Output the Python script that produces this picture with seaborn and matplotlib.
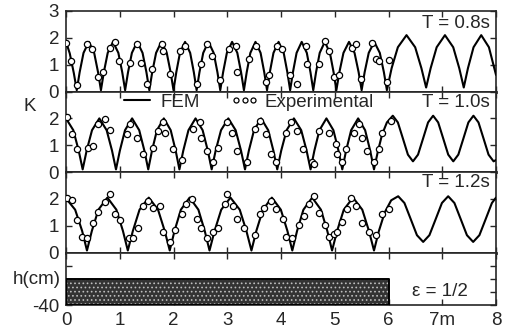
import matplotlib
matplotlib.use("Agg")
import matplotlib.pyplot as plt
from matplotlib.lines import Line2D
from matplotlib.legend_handler import HandlerLine2D
import seaborn as sns

# ---------------- data ----------------
x_ticks = [0, 1, 2, 3, 4, 5, 6, 7, 8]
x_ticklabels = ["0", "1", "2", "3", "4", "5", "6", "7m", "8"]
period_labels = ["T = 0.8s", "T = 1.0s", "T = 1.2s"]

# T = 0.8 s
x1_fem = [0.00, 0.07, 0.146, 0.20,
          0.254, 0.326, 0.425, 0.524, 0.596, 0.65,
          0.704, 0.776, 0.875, 0.974, 1.046, 1.10,
          1.154, 1.226, 1.325, 1.424, 1.496, 1.55,
          1.604, 1.676, 1.775, 1.874, 1.946, 2.00,
          2.052, 2.120, 2.215, 2.310, 2.378, 2.43,
          2.483, 2.553, 2.650, 2.747, 2.817, 2.87,
          2.923, 2.993, 3.090, 3.187, 3.257, 3.31,
          3.362, 3.430, 3.525, 3.620, 3.688, 3.74,
          3.792, 3.860, 3.955, 4.050, 4.118, 4.17,
          4.222, 4.290, 4.385, 4.480, 4.548, 4.60,
          4.652, 4.720, 4.815, 4.910, 4.978, 5.03,
          5.086, 5.162, 5.265, 5.368, 5.444, 5.50,
          5.556, 5.632, 5.735, 5.838, 5.914, 5.97,
          6.058, 6.174, 6.335, 6.496, 6.612, 6.70,
          6.784, 6.896, 7.050, 7.204, 7.316, 7.40,
          7.478, 7.582, 7.725, 7.868, 8.00]
k1_fem = [1.85, 1.42, 0.68, 0.05,
          0.72, 1.44, 1.85, 1.44, 0.72, 0.05,
          0.72, 1.44, 1.85, 1.44, 0.72, 0.05,
          0.72, 1.44, 1.85, 1.44, 0.72, 0.05,
          0.72, 1.44, 1.85, 1.44, 0.72, 0.05,
          0.72, 1.44, 1.85, 1.44, 0.72, 0.05,
          0.72, 1.44, 1.85, 1.44, 0.72, 0.05,
          0.72, 1.44, 1.85, 1.44, 0.72, 0.05,
          0.72, 1.44, 1.85, 1.44, 0.72, 0.05,
          0.72, 1.44, 1.85, 1.44, 0.72, 0.05,
          0.72, 1.44, 1.85, 1.44, 0.72, 0.05,
          0.72, 1.44, 1.85, 1.44, 0.72, 0.05,
          0.72, 1.44, 1.85, 1.44, 0.72, 0.05,
          0.72, 1.44, 1.85, 1.44, 0.72, 0.05,
          0.87, 1.65, 2.10, 1.65, 0.87, 0.15,
          0.87, 1.65, 2.10, 1.65, 0.87, 0.15,
          0.87, 1.65, 2.10, 1.65, 0.62]
x1_exp = [0.00, 0.09, 0.20, 0.39, 0.48, 0.59, 0.69, 0.82, 0.91, 0.98,
          1.19, 1.32, 1.39, 1.50, 1.60, 1.78, 1.80, 1.93, 2.12, 2.21,
          2.43, 2.52, 2.63, 2.71, 2.86, 3.04, 3.17, 3.19, 3.41, 3.54,
          3.73, 3.78, 3.93, 4.01, 4.16, 4.29, 4.47, 4.49, 4.71, 4.81,
          4.90, 4.99, 5.08, 5.32, 5.40, 5.49, 5.70, 5.77, 5.83, 5.97, 6.01]
k1_exp = [1.81, 1.12, 0.23, 1.77, 1.58, 0.54, 0.73, 1.62, 1.85, 1.12,
          1.08, 1.77, 1.08, 0.27, 0.85, 1.77, 1.50, 0.65, 1.50, 1.69,
          0.27, 1.04, 1.77, 1.31, 0.42, 1.58, 1.69, 0.73, 1.23, 1.69,
          0.35, 0.62, 1.69, 1.58, 0.62, 0.27, 1.69, 1.04, 1.04, 1.88,
          1.50, 0.54, 0.62, 1.62, 1.77, 0.46, 1.81, 1.23, 1.12, 0.35, 1.19]

# T = 1.0 s
x2_fem = [0.00, 0.136, 0.236, 0.31,
          0.384, 0.484, 0.620, 0.756, 0.856, 0.93,
          1.002, 1.098, 1.230, 1.362, 1.458, 1.53,
          1.600, 1.692, 1.820, 1.948, 2.040, 2.11,
          2.182, 2.278, 2.410, 2.542, 2.638, 2.71,
          2.784, 2.884, 3.020, 3.156, 3.256, 3.33,
          3.402, 3.498, 3.630, 3.762, 3.858, 3.93,
          4.004, 4.104, 4.240, 4.376, 4.476, 4.55,
          4.621, 4.715, 4.845, 4.975, 5.069, 5.14,
          5.211, 5.305, 5.435, 5.565, 5.659, 5.73,
          5.80, 5.88, 5.97, 6.08, 6.174, 6.268, 6.361, 6.455,
          6.549, 6.643, 6.736, 6.83, 6.924, 7.018, 7.111, 7.205,
          7.299, 7.393, 7.486, 7.58, 7.674, 7.768, 7.861, 7.955, 8.00]
k2_fem = [2.00, 1.56, 0.80, 0.10,
          0.80, 1.56, 2.00, 1.56, 0.80, 0.10,
          0.80, 1.56, 2.00, 1.56, 0.80, 0.10,
          0.80, 1.56, 2.00, 1.56, 0.80, 0.10,
          0.80, 1.56, 2.00, 1.56, 0.80, 0.10,
          0.80, 1.56, 2.00, 1.56, 0.80, 0.10,
          0.80, 1.56, 2.00, 1.56, 0.80, 0.10,
          0.80, 1.56, 2.00, 1.56, 0.80, 0.10,
          0.80, 1.56, 2.00, 1.56, 0.80, 0.10,
          0.80, 1.56, 2.00, 1.56, 0.80, 0.10,
          0.75, 1.40, 1.85, 2.10, 1.85, 1.25, 0.65, 0.40,
          0.65, 1.25, 1.85, 2.10, 1.85, 1.25, 0.65, 0.40,
          0.65, 1.25, 1.85, 2.10, 1.85, 1.25, 0.65, 0.40, 0.45]
x2_exp = [0.02, 0.11, 0.20, 0.41, 0.50, 0.60, 0.72, 0.82, 1.13, 1.19,
          1.32, 1.43, 1.61, 1.71, 1.80, 1.84, 1.99, 2.15, 2.36, 2.49,
          2.52, 2.63, 2.73, 2.82, 3.00, 3.08, 3.19, 3.36, 3.51, 3.60,
          3.73, 3.82, 3.91, 4.10, 4.19, 4.29, 4.40, 4.58, 4.62, 4.71,
          4.90, 5.03, 5.05, 5.14, 5.21, 5.36, 5.45, 5.51, 5.60, 5.73,
          5.83, 5.88, 6.05]
k2_exp = [2.04, 1.42, 0.85, 0.88, 0.96, 1.80, 1.96, 1.58, 1.42, 1.80,
          1.27, 0.69, 0.88, 1.54, 1.85, 1.46, 0.85, 0.46, 1.62, 1.85,
          1.27, 0.77, 0.38, 0.88, 1.85, 1.46, 0.77, 0.38, 1.62, 1.92,
          1.42, 0.69, 0.38, 1.46, 1.85, 1.54, 0.85, 0.38, 0.31, 1.54,
          1.46, 1.04, 0.69, 0.38, 0.85, 1.46, 1.80, 1.27, 0.77, 0.38,
          0.85, 1.46, 1.92]

# T = 1.2 s
x3_fem = [0.00, 0.17, 0.30, 0.39,
          0.481, 0.603, 0.770, 0.937, 1.059, 1.15,
          1.244, 1.368, 1.540, 1.712, 1.836, 1.93,
          2.019, 2.137, 2.300, 2.463, 2.581, 2.67,
          2.764, 2.888, 3.060, 3.232, 3.356, 3.45,
          3.541, 3.663, 3.830, 3.997, 4.119, 4.21,
          4.299, 4.417, 4.580, 4.743, 4.861, 4.95,
          5.044, 5.168, 5.340, 5.512, 5.636, 5.73,
          5.82, 5.93, 6.05, 6.18, 6.296, 6.413, 6.529, 6.645,
          6.761, 6.878, 6.994, 7.11, 7.226, 7.343, 7.459, 7.575,
          7.691, 7.808, 7.924, 8.00]
k3_fem = [2.02, 1.60, 0.81, 0.08,
          0.81, 1.60, 2.05, 1.60, 0.81, 0.08,
          0.81, 1.60, 2.05, 1.60, 0.81, 0.08,
          0.81, 1.60, 2.05, 1.60, 0.81, 0.08,
          0.81, 1.60, 2.05, 1.60, 0.81, 0.08,
          0.81, 1.60, 2.05, 1.60, 0.81, 0.08,
          0.81, 1.60, 2.05, 1.60, 0.81, 0.08,
          0.81, 1.60, 2.05, 1.60, 0.81, 0.08,
          0.80, 1.50, 1.95, 2.10, 1.85, 1.25, 0.65, 0.40,
          0.65, 1.25, 1.85, 2.10, 1.85, 1.25, 0.65, 0.40,
          0.65, 1.25, 1.85, 2.05]
x3_exp = [0.02, 0.12, 0.20, 0.30, 0.39, 0.50, 0.60, 0.73, 0.82, 0.91,
          1.00, 1.18, 1.25, 1.34, 1.43, 1.53, 1.62, 1.74, 1.81, 1.93,
          2.02, 2.15, 2.24, 2.34, 2.43, 2.52, 2.63, 2.73, 2.82, 2.95,
          3.00, 3.10, 3.19, 3.32, 3.51, 3.60, 3.69, 3.82, 3.91, 4.03,
          4.10, 4.21, 4.34, 4.43, 4.53, 4.62, 4.71, 4.81, 4.90, 4.99,
          5.05, 5.14, 5.23, 5.31, 5.40, 5.51, 5.64, 5.77, 5.88, 6.01]
k3_exp = [2.04, 1.96, 1.20, 0.58, 0.55, 1.09, 1.53, 1.89, 2.18, 1.45,
          1.20, 0.55, 0.55, 0.91, 1.75, 1.93, 1.67, 1.75, 0.76, 0.40,
          0.84, 1.45, 1.82, 2.00, 1.27, 0.91, 0.55, 0.76, 0.91, 1.82,
          2.18, 1.75, 1.27, 0.91, 0.65, 1.45, 1.67, 1.93, 1.64, 1.27,
          0.58, 0.55, 1.02, 1.38, 1.82, 2.10, 1.49, 1.02, 0.58, 0.70,
          0.76, 1.13, 1.64, 2.04, 1.75, 1.09, 0.76, 0.65, 1.45, 1.64]

# breakwater profile (bottom panel)
bw_x = [0.0, 6.0]
bw_bottom = [-40, -40]
bw_top = [-20, -20]

# ---------------- style ----------------
FS = 13.5
sns.set_theme(style="ticks")
plt.rcParams["font.family"] = ["Liberation Sans", "DejaVu Sans"]
plt.rcParams["font.size"] = FS
plt.rcParams["axes.linewidth"] = 1.2
plt.rcParams["hatch.linewidth"] = 0.7

fig = plt.figure(figsize=(5.05, 3.28), dpi=100)
gs = fig.add_gridspec(4, 1, height_ratios=[3, 3, 3, 1.95], hspace=0,
                      left=0.1307, right=0.9822, top=0.9665, bottom=0.0701)
axes = [fig.add_subplot(gs[i]) for i in range(4)]

fem_x = [x1_fem, x2_fem, x3_fem]
fem_k = [k1_fem, k2_fem, k3_fem]
exp_x = [x1_exp, x2_exp, x3_exp]
exp_k = [k1_exp, k2_exp, k3_exp]
label_y = [0.84, 0.87, 0.87]

for i in range(3):
    ax = axes[i]
    sns.lineplot(x=fem_x[i], y=fem_k[i], ax=ax, color="black", lw=1.5,
                 estimator=None, sort=False, zorder=3)
    sns.scatterplot(x=exp_x[i], y=exp_k[i], ax=ax, marker="o", s=20,
                    facecolor="white", edgecolor="black", linewidth=0.9,
                    zorder=4)
    ax.set_xlim(0, 8)
    ax.set_ylim(0, 3)
    ax.set_xticks(x_ticks)
    ax.set_xticklabels([])
    ax.set_yticks([0, 1, 2, 3])
    if i == 0:
        ax.set_yticklabels(["0", "1", "2", "3"])
    else:
        ax.set_yticklabels(["0", "1", "2", ""])
    ax.tick_params(direction="in", top=True, right=True, length=4,
                   width=1.0, pad=5, labelsize=FS)
    ax.text(0.985, label_y[i], period_labels[i], transform=ax.transAxes,
            ha="right", va="center", fontsize=FS)
    ax.set_xlabel("")
    ax.set_ylabel("")
    for sp in ax.spines.values():
        sp.set_linewidth(1.2)
    ax.spines["bottom"].set_linewidth(2.0)

# bottom panel
axb = axes[3]
axb.fill_between(bw_x, bw_bottom, bw_top, facecolor="#333333",
                 edgecolor="#bdbdbd", hatch="....", linewidth=0, zorder=2)
axb.fill_between(bw_x, bw_bottom, bw_top, facecolor="none",
                 edgecolor="black", linewidth=1.4, zorder=3)
axb.set_xlim(0, 8)
axb.set_ylim(-40, 0)
axb.set_xticks(x_ticks)
axb.set_xticklabels(x_ticklabels)
axb.set_yticks([-40, -30, -20, -10])
axb.set_yticklabels(["-40", "", "", ""])
axb.tick_params(direction="in", top=True, right=True, length=4,
                width=1.0, pad=5, labelsize=FS)
axb.text(0.87, 0.26, "ε = 1/2", transform=axb.transAxes,
         ha="center", va="center", fontsize=FS)

# legend in second panel
handles = [Line2D([0], [0], color="black", lw=1.5),
           Line2D([0], [0], color="black", lw=0, marker="o", markersize=3.6,
                  markerfacecolor="white", markeredgewidth=0.9)]
axes[1].legend(handles, ["FEM", "Experimental"], ncol=2, frameon=False,
               loc="center left", bbox_to_anchor=(0.121, 0.87),
               borderaxespad=0, borderpad=0, handlelength=2.0,
               handletextpad=0.27, columnspacing=1.15, numpoints=3,
               fontsize=FS,
               handler_map={handles[1]: HandlerLine2D(numpoints=3,
                                                      marker_pad=0.3,
                                                      xpad=0.45)})

fig.text(30 / 505, 1 - 106 / 328, "K", ha="center", va="center", fontsize=FS)
fig.text(61 / 505, 1 - 279 / 328, "h(cm)", ha="right", va="center", fontsize=FS)

fig.savefig("out.png", dpi=100)
